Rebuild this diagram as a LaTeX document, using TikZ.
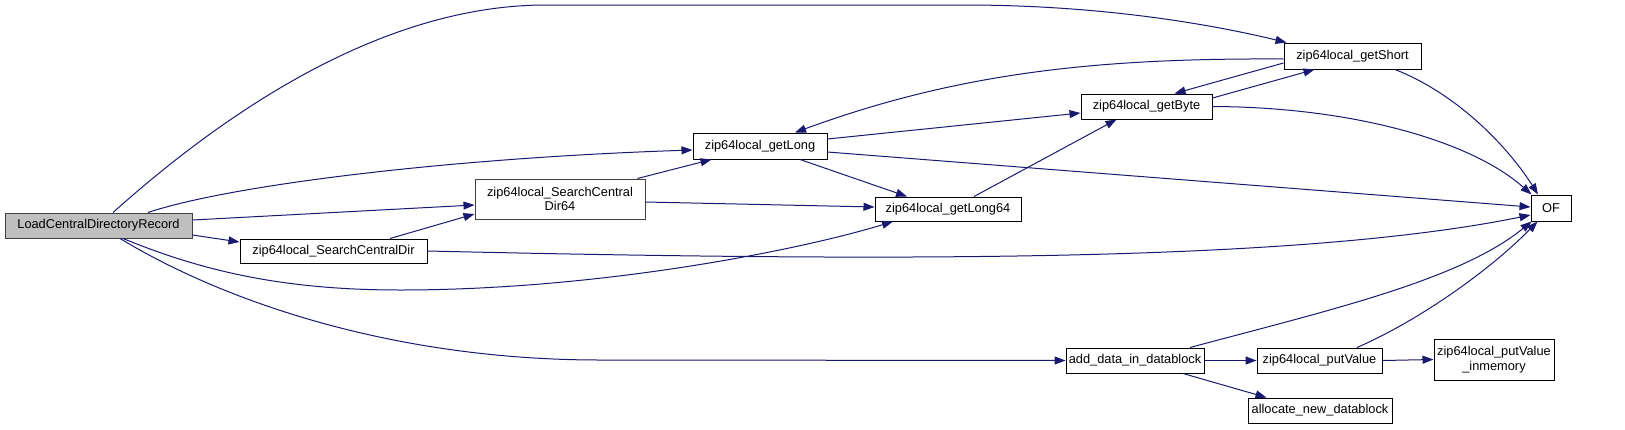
\documentclass[tikz,border=0pt]{standalone}
\usepackage{fontspec}
\setmainfont{Liberation Sans}
\usetikzlibrary{arrows.meta, positioning}
\definecolor{EdgeColor}{RGB}{25,25,112}
\definecolor{RootFill}{RGB}{191,191,191}
\tikzset{
  fn/.style={draw=black, line width=1pt, inner sep=0pt, align=center, font=\fontsize{12.8}{14.8}\selectfont},
  root/.style={fn, fill=RootFill, draw=black!75},
  call/.style={draw=EdgeColor, line width=1pt, -{Triangle[length=11pt, width=8pt]}}
}

\begin{document}
\begin{tikzpicture}[x=1pt, y=-1pt]
          \useasboundingbox (0,0) rectangle (1625,429);
          \node[root, minimum width=187pt, minimum height=25pt] (lcdr) at (98.5,225.5) {LoadCentralDirectoryRecord};
          \node[fn, minimum width=187pt, minimum height=24pt] (scd) at (333.5,251) {zip64local\_SearchCentralDir};
          \node[fn, draw=black!75, minimum width=170pt, minimum height=40pt] (scd64) at (560,199) {zip64local\_SearchCentral\\Dir64};
          \node[fn, minimum width=134pt, minimum height=26pt] (getlong) at (760,146) {zip64local\_getLong};
          \node[fn, minimum width=146pt, minimum height=24pt] (getlong64) at (948,209) {zip64local\_getLong64};
          \node[fn, minimum width=131pt, minimum height=25pt] (getbyte) at (1146.5,106.5) {zip64local\_getByte};
          \node[fn, minimum width=137pt, minimum height=26pt] (getshort) at (1352.5,56) {zip64local\_getShort};
          \node[fn, minimum width=40pt, minimum height=26pt] (of) at (1551,208) {OF};
          \node[fn, minimum width=138pt, minimum height=25pt] (adddata) at (1135,360.5) {add\_data\_in\_datablock};
          \node[fn, minimum width=125pt, minimum height=25pt] (putvalue) at (1319.5,360.5) {zip64local\_putValue};
          \node[fn, minimum width=120pt, minimum height=41pt] (inmem) at (1494,359.5) {zip64local\_putValue\\\_inmemory};
          \node[fn, minimum width=144pt, minimum height=25pt] (alloc) at (1320,410.5) {allocate\_new\_datablock};

          \draw[call] ([xshift=14.5]lcdr.north) .. controls (250,90) and (400,5) .. (546,5) -- (964,5) .. controls (1100,5) and (1210,24) .. ([xshift=3]getshort.north west);
          \draw[call] ([xshift=49.5]lcdr.north) .. controls (230,185) and (450,158) .. ([yshift=-4]getlong.west);
          \draw[call] ([yshift=5.5]lcdr.east) -- ([yshift=-6]scd64.west);
          \draw[call] ([yshift=-9.5]lcdr.east) -- ([yshift=9]scd.west);
          \draw[call] ([xshift=24.5]lcdr.south) .. controls (200,270) and (280,290) .. (400,290) .. controls (600,290) and (800,250) .. ([xshift=-55]getlong64.south);
          \draw[call] ([xshift=21.5]lcdr.south) .. controls (230,305) and (400,360) .. (600,360) -- (adddata.west);
          \draw[call] ([xshift=56.5]scd.north) -- ([yshift=-15]scd64.west);
          \draw[call] (scd.east) .. controls (900,262) and (1300,262) .. ([yshift=-7]of.west);
          \draw[call] ([xshift=-8]scd64.north east) -- ([xshift=19]getlong.south west);
          \draw[call] ([yshift=-3]scd64.east) -- ([yshift=2]getlong64.west);
          \draw[call] ([yshift=7]getlong.east) -- ([yshift=-6.5]getbyte.west);
          \draw[call] ([yshift=-6]getlong.east) -- ([yshift=1]of.west);
          \draw[call] ([xshift=40]getlong.south) -- ([xshift=-41]getlong64.north);
          \draw[call] ([xshift=26]getlong64.north) -- ([xshift=-30]getbyte.south);
          \draw[call] ([yshift=8.5]getbyte.east) -- ([xshift=31]getshort.south west);
          \draw[call] ([yshift=-7]getshort.west) -- ([xshift=28]getbyte.north);
          \draw[call] ([yshift=-3]getshort.west) .. controls (1100,58) and (960,72) .. ([xshift=35]getlong.north);
          \draw[call] (getbyte.east) .. controls (1350,107) and (1470,140) .. ([xshift=1]of.north west);
          \draw[call] ([xshift=42.5]getshort.south) .. controls (1460,95) and (1510,150) .. ([xshift=-13]of.north);
          \draw[call] ([xshift=55]adddata.north) .. controls (1330,310) and (1460,280) .. ([xshift=1]of.south west);
          \draw[call] (adddata.east) -- (putvalue.west);
          \draw[call] ([xshift=48]adddata.south) -- ([xshift=19]alloc.north west);
          \draw[call] ([xshift=37.5]putvalue.north) .. controls (1420,320) and (1490,270) .. ([xshift=7]of.south west);
          \draw[call] (putvalue.east) -- (inmem.west);
        \end{tikzpicture}
\end{document}
